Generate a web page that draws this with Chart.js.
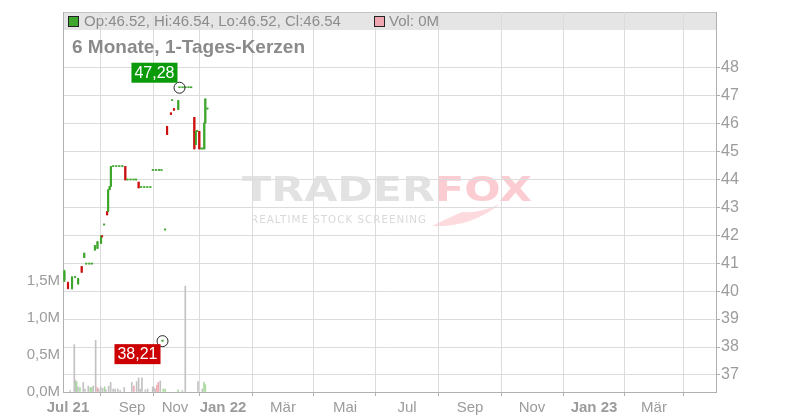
<!DOCTYPE html>
<html>
<head>
<meta charset="utf-8">
<script src="https://cdn.jsdelivr.net/npm/chart.js@4.4.1/dist/chart.umd.min.js"></script>
<style>
  html, body { margin: 0; padding: 0; background: #fff; }
</style>
</head>
<body>
<canvas id="chart" width="800" height="420"></canvas>
<script>
// x positions are in days relative to 1 Jan 2022; the history part of the axis
// is spaced by trading sessions, the future part by calendar days
const tickDays   = [-152.5, -89.5, -47.2, 0, 59, 120, 181, 243, 304, 365, 424]
const tickLabels = ['Jul 21', 'Sep', 'Nov', 'Jan 22', 'Mär', 'Mai', 'Jul', 'Sep', 'Nov', 'Jan 23', 'Mär']

const candleDay   = [-156, -152.5, -148.5, -145.5, -142.5, -139, -136.5, -134.5, -131.5, -129, -126, -123.5, -120, -119, -117, -114, -113, -111.5, -110.3, -108, -105, -102, -99, -96.1, -94, -91, -88, -85.5, -83, -80.5, -77.5, -74.5, -71.5, -69, -66, -63, -60.5, -59.5, -57, -55, -51.2, -50, -48.2, -44, -42.8, -39.8, -36.9, -33.9, -31.3, -28.2, -26.8, -25.5, -23.3, -21.5, -19.6, -18.4, -17.4, -15.4]
const candleOpen  = [40.40, 40.30, 40.10, 40.49, 40.26, 40.88, 41.20, 40.97, 40.97, 40.97, 41.47, 41.53, 41.71, 41.98, 42.37, 42.85, 42.85, 43.63, 43.75, 44.46, 44.46, 44.46, 44.46, 44.46, 43.98, 43.98, 43.98, 43.98, 43.90, 43.71, 43.71, 43.71, 43.71, 44.32, 44.32, 44.32, 44.32, 38.21, 42.19, 45.90, 46.38, 46.82, 46.53, 46.50, 47.28, 47.28, 47.28, 47.28, 47.28, 46.22, 45.24, 45.72, 45.72, 45.09, 45.09, 45.09, 46.02, 46.52]
const candleHigh  = [40.75, 40.32, 40.52, 40.49, 40.46, 40.88, 41.36, 40.97, 40.97, 40.97, 41.63, 41.77, 41.98, 41.98, 42.37, 42.85, 43.63, 43.75, 44.46, 44.46, 44.46, 44.46, 44.46, 44.46, 43.98, 43.98, 43.98, 43.98, 43.90, 43.71, 43.71, 43.71, 43.71, 44.32, 44.32, 44.32, 44.32, 38.21, 42.19, 45.90, 46.38, 46.82, 46.53, 46.82, 47.28, 47.28, 47.28, 47.28, 47.28, 46.22, 45.72, 45.72, 45.72, 45.09, 45.09, 46.02, 46.88, 46.54]
const candleLow   = [40.34, 40.08, 40.07, 40.49, 40.25, 40.67, 41.20, 40.97, 40.97, 40.97, 41.47, 41.53, 41.71, 41.94, 42.37, 42.73, 42.85, 43.63, 43.75, 44.46, 44.46, 44.46, 44.46, 43.98, 43.98, 43.98, 43.98, 43.98, 43.69, 43.71, 43.71, 43.71, 43.71, 44.32, 44.32, 44.32, 44.32, 38.21, 42.19, 45.60, 46.32, 46.82, 46.47, 46.50, 47.28, 47.28, 47.28, 47.28, 47.28, 45.09, 45.24, 45.72, 45.09, 45.09, 45.09, 45.09, 46.02, 46.52]
const candleClose = [40.70, 40.10, 40.50, 40.49, 40.45, 40.68, 41.36, 40.97, 40.97, 40.97, 41.63, 41.77, 41.98, 41.94, 42.37, 42.73, 43.63, 43.75, 44.46, 44.46, 44.46, 44.46, 44.46, 43.98, 43.98, 43.98, 43.98, 43.98, 43.70, 43.71, 43.71, 43.71, 43.71, 44.32, 44.32, 44.32, 44.32, 38.21, 42.19, 45.60, 46.32, 46.82, 46.48, 46.82, 47.28, 47.28, 47.28, 47.28, 47.28, 45.09, 45.72, 45.72, 45.09, 45.09, 45.09, 46.02, 46.88, 46.54]

// volume in millions; kind: n = neutral, u = up day, d = down day
const volDay  = [-150.5, -146.3, -145.3, -144, -142.7, -140.7, -137.5, -135.8, -132.6, -130.6, -129.2, -127.7, -125.3, -123.7, -122.3, -120.3, -118.4, -116.4, -115.2, -112.5, -110.5, -108, -106, -103.4, -101.1, -97.2, -89.7, -87.7, -85, -83, -81.4, -79.7, -76.4, -74.1, -69.2, -67.9, -66.6, -65, -63.7, -61.7, -58.8, -56.8, -44, -40, -37.1, -24.6, -20.4, -18.7, -17.4]
const volume  = [0.02, 0.64, 0.16, 0.14, 0.07, 0.06, 0.13, 0.04, 0.08, 0.06, 0.06, 0.08, 0.70, 0.06, 0.04, 0.07, 0.05, 0.07, 0.03, 0.08, 0.13, 0.04, 0.04, 0.04, 0.02, 0.06, 0.13, 0.08, 0.14, 0.19, 0.04, 0.19, 0.03, 0.04, 0.07, 0.06, 0.04, 0.09, 0.13, 0.15, 0.04, 0.04, 0.03, 0.02, 1.43, 0.14, 0.04, 0.13, 0.10]
const volKind = ['n', 'n', 'n', 'u', 'n', 'u', 'n', 'n', 'n', 'u', 'u', 'n', 'n', 'd', 'n', 'n', 'n', 'u', 'n', 'n', 'n', 'n', 'n', 'n', 'n', 'n', 'n', 'd', 'n', 'n', 'n', 'n', 'n', 'n', 'n', 'n', 'n', 'd', 'd', 'n', 'u', 'u', 'u', 'n', 'n', 'n', 'n', 'u', 'u']

const volTicks = [0, 0.5, 1, 1.5]
const priceTicks = [37, 38, 39, 40, 41, 42, 43, 44, 45, 46, 47, 48]

const FONT = '"Liberation Sans", Arial, sans-serif'
const UP = '#3fa62e'
const DOWN = '#cc1111'
const volColors = { n: '#c2c2c2', u: '#a8dc9e', d: '#f2a8b1' }

const candleColor = candleDay.map( ( d, i ) => candleClose[ i ] >= candleOpen[ i ] ? UP : DOWN )
const comma = v => v.toFixed( 2 ).replace( '.', ',' )

const decorations = {
  id: 'decorations',
  beforeDraw( chart ) {
    const { ctx, chartArea: a } = chart
    ctx.save()
    // header band
    ctx.fillStyle = '#e5e5e5'
    ctx.fillRect( a.left, a.top, a.right - a.left, 18 )
    ctx.strokeStyle = '#c4c4c4'
    ctx.lineWidth = 1
    ctx.beginPath()
    ctx.moveTo( a.left, a.top + 0.5 )
    ctx.lineTo( a.right, a.top + 0.5 )
    ctx.stroke()

    // watermark
    ctx.font = 'bold 34px "DejaVu Sans"'
    const w1 = ctx.measureText( 'TRADER' ).width
    const w2 = ctx.measureText( 'FOX' ).width
    ctx.save()
    ctx.translate( 242, 201 )
    ctx.scale( 290 / ( w1 + w2 ), 1 )
    ctx.fillStyle = '#e2e2e2'
    ctx.fillText( 'TRADER', 0, 0 )
    ctx.fillStyle = '#fbcdd2'
    ctx.fillText( 'FOX', w1, 0 )
    ctx.restore()
    ctx.font = '10px "DejaVu Sans"'
    ctx.letterSpacing = '1px'
    const tw = ctx.measureText( 'REALTIME STOCK SCREENING' ).width
    ctx.save()
    ctx.translate( 251, 223 )
    ctx.scale( 176 / tw, 1 )
    ctx.fillStyle = '#d9d9d9'
    ctx.fillText( 'REALTIME STOCK SCREENING', 0, 0 )
    ctx.restore()
    ctx.letterSpacing = '0px'
    // fox tail swoosh
    ctx.fillStyle = '#fcdade'
    ctx.beginPath()
    ctx.moveTo( 432, 226 )
    ctx.quadraticCurveTo( 470, 228, 500, 204 )
    ctx.quadraticCurveTo( 478, 214, 462, 212 )
    ctx.quadraticCurveTo( 448, 218, 432, 226 )
    ctx.fill()
    ctx.restore()
  },
  beforeDatasetsDraw( chart ) {
    const { ctx } = chart
    const last = candleDay.length - 1
    ctx.save()
    ctx.textBaseline = 'middle'
    ctx.lineWidth = 1
    ctx.strokeStyle = '#222'
    ctx.fillStyle = UP
    ctx.fillRect( 68.5, 16.5, 10, 10 )
    ctx.strokeRect( 68.5, 16.5, 10, 10 )
    ctx.fillStyle = '#eea7b0'
    ctx.fillRect( 374.5, 16.5, 10, 10 )
    ctx.strokeRect( 374.5, 16.5, 10, 10 )
    ctx.font = '15px ' + FONT
    ctx.fillStyle = '#8c8c8c'
    ctx.fillText( 'Op:' + candleOpen[ last ].toFixed( 2 ) + ', Hi:' + candleHigh[ last ].toFixed( 2 ) +
      ', Lo:' + candleLow[ last ].toFixed( 2 ) + ', Cl:' + candleClose[ last ].toFixed( 2 ), 84, 22 )
    ctx.fillText( 'Vol: 0M', 389, 22 )
    ctx.font = 'bold 19px ' + FONT
    ctx.fillStyle = '#8a8a8a'
    ctx.fillText( '6 Monate, 1-Tages-Kerzen', 72, 48 )
    ctx.restore()
  },
  afterDraw( chart ) {
    const { ctx, scales } = chart
    const hi = candleHigh.indexOf( Math.max( ...candleHigh ) )
    const lo = candleLow.indexOf( Math.min( ...candleLow ) )
    const marks = [
      { i: hi, v: candleHigh[ hi ], bg: '#0a9a0a', up: true },
      { i: lo, v: candleLow[ lo ], bg: '#cc0000', up: false }
    ]
    ctx.save()
    ctx.font = '16px ' + FONT
    ctx.textBaseline = 'middle'
    marks.forEach( m => {
      const x = scales.x.getPixelForValue( candleDay[ m.i ] )
      const y = scales.price.getPixelForValue( m.v )
      ctx.strokeStyle = '#222'
      ctx.lineWidth = 1
      ctx.beginPath()
      ctx.arc( x, y, 5.5, 0, Math.PI * 2 )
      ctx.stroke()
      const txt = comma( m.v )
      const w = ctx.measureText( txt ).width + 6
      const top = m.up ? y - 25 : y + 3
      ctx.fillStyle = m.bg
      ctx.fillRect( x - 2 - w, top, w, 20 )
      ctx.fillStyle = '#fff'
      ctx.fillText( txt, x - 2 - w + 3, top + 10.5 )
    } )
    ctx.restore()
  }
}

const tickFont = size => ( { family: FONT, size } )

const config = {
  type: 'bar',
  data: {
    datasets: [
      {
        label: 'Docht',
        yAxisID: 'price',
        data: candleDay.map( ( d, i ) => ( { x: d, y: [ candleLow[ i ], candleHigh[ i ] ] } ) ),
        backgroundColor: candleColor,
        barThickness: 1,
        grouped: false
      },
      {
        label: 'Kerze',
        yAxisID: 'price',
        data: candleDay.map( ( d, i ) => ( { x: d, y: [ candleOpen[ i ], candleClose[ i ] ] } ) ),
        backgroundColor: candleColor,
        barThickness: 1.5,
        minBarLength: 1,
        grouped: false
      },
      {
        label: 'Volumen',
        yAxisID: 'vol',
        data: volDay.map( ( d, i ) => ( { x: d, y: volume[ i ] } ) ),
        backgroundColor: volKind.map( k => volColors[ k ] ),
        barThickness: 1,
        grouped: false
      }
    ]
  },
  options: {
    responsive: false,
    animation: false,
    layout: { padding: { top: 12, left: 0, right: 0, bottom: 0 } },
    plugins: { legend: { display: false }, tooltip: { enabled: false } },
    scales: {
      x: {
        type: 'linear',
        min: -157.4,
        max: 485,
        offset: false,
        afterBuildTicks: scale => { scale.ticks = tickDays.map( v => ( { value: v } ) ) },
        afterFit: scale => { scale.height = 28 },
        grid: { color: '#dcdcdc', tickLength: 4, tickColor: '#b0b0b0' },
        border: { color: '#b0b0b0' },
        ticks: {
          autoSkip: false,
          maxRotation: 0,
          padding: 3,
          color: '#9c9c9c',
          font: ctx => ( { family: FONT, size: 15, weight: /\d/.test( tickLabels[ ctx.index ] || '' ) ? 'bold' : 'normal' } ),
          callback: ( v, i ) => tickLabels[ i ]
        }
      },
      price: {
        type: 'linear',
        position: 'right',
        min: 36.39,
        max: 49.99,
        afterBuildTicks: scale => { scale.ticks = priceTicks.map( v => ( { value: v } ) ) },
        afterFit: scale => { scale.width = 84 },
        grid: { color: '#dcdcdc', tickLength: 4, tickColor: '#b0b0b0' },
        border: { color: '#b0b0b0' },
        ticks: { padding: 1, color: '#9c9c9c', font: tickFont( 16 ) }
      },
      vol: {
        type: 'linear',
        position: 'left',
        min: 0,
        max: 5.135,
        afterBuildTicks: scale => { scale.ticks = volTicks.map( v => ( { value: v } ) ) },
        afterFit: scale => { scale.width = 63 },
        grid: { drawOnChartArea: false, drawTicks: false },
        border: { color: '#b0b0b0' },
        ticks: {
          padding: 3,
          color: '#9c9c9c',
          font: tickFont( 15 ),
          callback: v => v.toFixed( 1 ).replace( '.', ',' ) + 'M'
        }
      }
    }
  },
  plugins: [ decorations ]
}

const chart = new Chart( document.getElementById( 'chart' ), config )
</script>
</body>
</html>
